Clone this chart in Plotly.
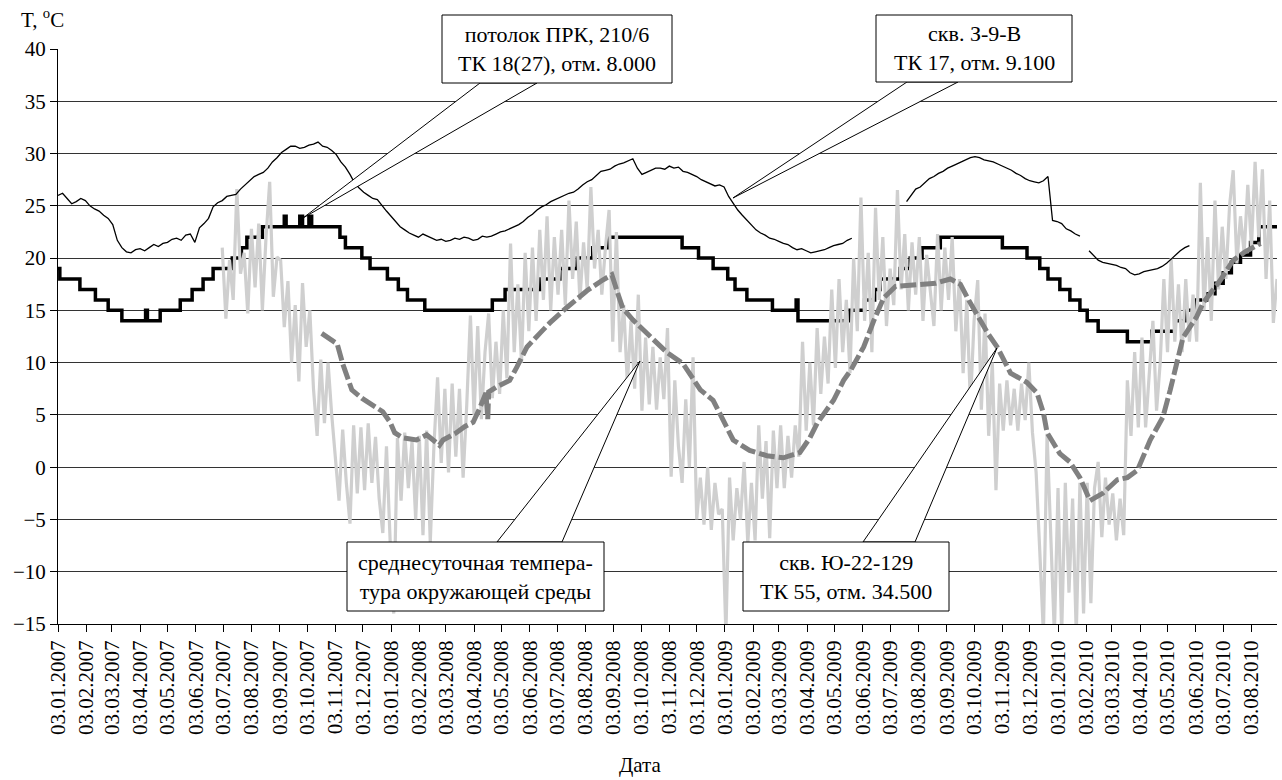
import pandas as pd
import plotly.graph_objects as go

# ---------------- data ----------------
X_START = "2007-01-03"
X_END = "2010-08-31"

# скв. З-9-В, ТК 17 (thin black), every 5 days from 03.01.2007
z9_start = "2007-01-03"
z9_vals = [
    26.0, 26.2, 25.7, 25.2, 25.4, 25.7, 25.5, 25.0, 24.7, 24.5, 24.1, 23.8, 23.2, 21.7, 21.0, 20.6, 20.5, 20.8, 20.9, 20.7,
    21.0, 21.3, 21.1, 21.4, 21.5, 21.8, 21.9, 21.7, 22.2, 22.3, 21.5, 22.9, 23.3, 23.8, 24.9, 25.3, 25.5, 25.9, 26.0, 26.1,
    26.6, 27.0, 27.4, 27.8, 28.0, 28.2, 28.6, 29.2, 29.6, 30.1, 30.4, 30.7, 30.7, 30.5, 30.6, 30.8, 30.9, 31.1, 30.7, 30.6,
    30.3, 29.9, 29.2, 28.7, 28.0, 27.2, 26.7, 26.3, 26.0, 25.7, 25.6, 25.0, 24.5, 24.0, 23.5, 23.0, 22.7, 22.4, 22.2, 22.0,
    22.3, 22.1, 21.9, 21.7, 21.8, 21.6, 21.7, 21.9, 21.8, 22.0, 21.9, 21.7, 21.8, 22.1, 22.0, 22.1, 22.3, 22.5, 22.6, 22.8,
    23.0, 23.2, 23.5, 23.9, 24.2, 24.6, 24.9, 25.1, 25.4, 25.6, 25.8, 26.0, 26.2, 26.3, 26.6, 27.0, 27.3, 27.5, 27.9, 28.3,
    28.4, 28.5, 28.8, 29.0, 29.1, 29.3, 29.5, 28.6, 28.0, 28.2, 28.4, 28.6, 28.6, 28.5, 28.8, 28.6, 28.7, 28.3, 28.2, 28.0,
    27.8, 27.5, 27.3, 27.1, 26.9, 27.0, 26.8, 25.9, 25.2, 24.6, 24.1, 23.6, 23.2, 22.7, 22.4, 22.2, 21.9, 21.8, 21.6, 21.4,
    21.3, 21.0, 20.8, 20.9, 20.7, 20.5, 20.6, 20.7, 20.8, 21.0, 21.2, 21.3, 21.4, 21.7, 21.9, None, None, None, None, None,
    None, None, None, None, None, None, 25.4, 26.0, 26.6, 26.8, 27.2, 27.6, 27.8, 28.1, 28.3, 28.6, 28.8, 29.0, 29.2, 29.4,
    29.6, 29.7, 29.6, 29.4, 29.3, 29.2, 29.0, 28.8, 28.6, 28.4, 28.1, 27.9, 27.6, 27.4, 27.3, 27.2, 27.4, 27.8, 23.6, 23.5,
    23.3, 22.8, 22.6, 22.3, 22.1, None, 20.7, 20.2, 19.8, 19.6, 19.5, 19.4, 19.3, 19.1, 19.0, 18.6, 18.4, 18.5, 18.7, 18.8,
    18.9, 19.0, 19.2, 19.5, 19.9, 20.3, 20.7, 21.0, 21.2,
]

# потолок ПРК 210/6, ТК 18(27) (thick black step line): change dates and levels
step_dates = ["2007-01-03", "2007-01-05", "2007-01-27", "2007-02-13", "2007-02-27", "2007-03-14", "2007-04-09", "2007-04-11", "2007-04-25", "2007-05-17",
              "2007-05-30", "2007-06-11", "2007-06-22", "2007-07-13", "2007-07-23", "2007-07-29", "2007-08-15", "2007-09-08", "2007-09-10", "2007-09-25",
              "2007-09-28", "2007-10-05", "2007-10-08", "2007-11-08", "2007-11-14", "2007-12-02", "2007-12-11", "2007-12-30", "2008-01-11", "2008-01-21",
              "2008-02-09", "2008-04-23", "2008-05-07", "2008-06-14", "2008-07-06", "2008-07-25", "2008-08-11", "2008-08-27", "2008-11-17", "2008-12-05",
              "2008-12-21", "2009-01-06", "2009-01-14", "2009-01-27", "2009-02-24", "2009-03-22", "2009-03-24", "2009-05-20", "2009-06-05", "2009-06-16",
              "2009-06-22", "2009-07-14", "2009-07-25", "2009-08-07", "2009-08-27", "2009-11-03", "2009-11-30", "2009-12-14", "2009-12-23", "2010-01-05",
              "2010-01-16", "2010-01-27", "2010-02-04", "2010-02-16", "2010-03-20", "2010-04-16", "2010-05-11", "2010-05-22", "2010-06-04", "2010-06-15",
              "2010-06-24", "2010-07-03", "2010-07-12", "2010-07-22", "2010-08-02", "2010-08-11", "2010-08-31"]
step_vals = [19, 18, 17, 16, 15, 14, 15, 14, 15, 16,
             17, 18, 19, 20, 21, 22, 23, 24, 23, 24,
             23, 24, 23, 22, 21, 20, 19, 18, 17, 16,
             15, 16, 17, 18, 19, 20, 21, 22, 21, 20,
             19, 18, 17, 16, 15, 16, 14, 15, 16, 17,
             18, 19, 20, 21, 22, 21, 20, 19, 18, 17,
             16, 15, 14, 13, 12, 13, 14, 15, 16, 16.6,
             17.6, 18.6, 19.6, 20.3, 21.5, 23, 23]

# скв. Ю-22-129, ТК 55 (thick grey dashed)
yu_dates = ["2007-10-19", "2007-10-28", "2007-11-05", "2007-11-11", "2007-11-17", "2007-11-21", "2007-12-02", "2007-12-11", "2007-12-20", "2007-12-25",
            "2008-01-02", "2008-01-07", "2008-01-16", "2008-01-31", "2008-02-11", "2008-02-18", "2008-02-25", "2008-02-29", "2008-03-13", "2008-03-24",
            "2008-04-02", "2008-04-09", "2008-04-16", "2008-04-18", "2008-04-19", "2008-04-28", "2008-05-12", "2008-05-20", "2008-05-31", "2008-06-14",
            "2008-06-25", "2008-07-14", "2008-08-05", "2008-08-22", "2008-09-01", "2008-09-08", "2008-09-13", "2008-09-24", "2008-10-09", "2008-10-31",
            "2008-11-18", "2008-12-07", "2008-12-21", "2009-01-03", "2009-01-12", "2009-01-30", "2009-02-18", "2009-03-08", "2009-03-26", "2009-04-06",
            "2009-04-14", "2009-05-02", "2009-05-13", "2009-05-21", "2009-06-04", "2009-06-15", "2009-06-26", "2009-07-09", "2009-08-02", "2009-08-22",
            "2009-09-07", "2009-09-18", "2009-09-27", "2009-10-07", "2009-10-18", "2009-10-29", "2009-11-12", "2009-11-30", "2009-12-11", "2009-12-18",
            "2009-12-22", "2010-01-05", "2010-01-16", "2010-01-27", "2010-02-07", "2010-02-21", "2010-03-09", "2010-03-20", "2010-03-31", "2010-04-14",
            "2010-04-28", "2010-05-06", "2010-05-14", "2010-05-20", "2010-06-04", "2010-06-11", "2010-06-30", "2010-07-14", "2010-07-27", "2010-08-13"]
yu_vals = [12.8, 12.2, 11.8, 9.9, 8.3, 7.4, 6.6, 6.1, 5.7, 5.3,
           4.3, 3.3, 2.8, 2.6, 3.1, 2.6, 2.1, 2.6, 3.2, 3.9,
           4.3, 5.6, 7.1, 4.6, 7.2, 7.7, 8.3, 9.6, 11.5, 12.8,
           13.8, 15.3, 16.9, 17.9, 18.4, 16.5, 15.2, 14.1, 12.8, 11.0,
           9.9, 7.4, 6.4, 4.2, 2.6, 1.6, 1.1, 0.9, 1.4, 2.8,
           4.2, 6.4, 8.3, 9.3, 11.5, 14.0, 16.2, 17.3, 17.4, 17.6,
           18.0, 17.5, 16.0, 14.5, 12.8, 11.4, 9.0, 8.1, 7.1, 5.2,
           3.3, 1.3, 0.5, -1.0, -3.2, -2.5, -1.2, -1.0, -0.3, 2.6,
           4.8, 7.4, 10.5, 12.4, 14.4, 15.7, 17.9, 19.8, 20.6, 21.4]

# среднесуточная температура окружающей среды (light grey), every 4 days from 02.07.2007
amb_start = "2007-07-02"
amb_vals = [
    21.0, 14.2, 19.8, 16.0, 26.6, 18.5, 20.5, 14.7,      # Jul 2007
    22.8, 17.2, 23.3, 15.0, 22.0, 27.3, 16.3, 20.1,      # Aug
    19.8, 13.4, 17.8, 10.0, 15.5, 8.2, 17.6, 11.5,       # Sep
    15.0, 7.5, 3.0, 10.3, 4.2, 10.0, 5.0,                # Oct
    0.5, -3.2, 3.6, -1.5, -5.4, 4.0, -2.5, 3.8,          # Nov
    -2.2, 4.2, -1.5, 2.9, -3.0, -6.3, 2.0, -7.0,         # Dec
    -14.0, 2.8, -3.2, 3.3, -2.0, 2.5, -5.0,              # Jan 2008
    3.0, -6.5, 3.5, -7.2, 2.0, 8.6, 0.4, 7.5,            # Feb
    -0.5, 8.0, 1.0, 7.5, -1.0, 6.0, 14.5,                # Mar
    5.0, 13.5, 4.6, 11.0, 14.7, 6.6, 12.0, 7.0,          # Apr
    15.0, 8.5, 21.4, 11.0, 17.5, 10.0, 20.5, 13.0,       # May
    21.0, 14.0, 22.7, 16.0, 24.0, 15.0, 22.0,            # Jun
    16.5, 22.7, 15.5, 25.5, 18.0, 23.5, 16.0, 21.5,      # Jul
    17.0, 26.8, 19.0, 22.7, 16.5, 21.0, 24.6, 12.0,      # Aug
    22.5, 11.0, 15.5, 8.0, 14.0, 7.5, 16.5,              # Sep
    5.4, 12.4, 6.0, 11.5, 5.5, 10.5, 6.5, 13.3,          # Oct
    -0.9, 8.3, 2.0, -1.5, 6.5, 0.0, 10.5, -5.0,          # Nov
    -1.0, -5.5, 0.0, -6.0, -1.5, -4.5, -4.0,             # Dec
    -16.0, -1.0, -7.0, -2.0, -5.0, 0.5, -7.3, -1.5,      # Jan 2009
    -7.0, 4.0, -3.0, 2.5, -6.8, 3.5, -2.0,               # Feb
    4.0, -2.0, 3.0, -1.0, 4.0, 1.0, 12.0, 3.5,           # Mar
    10.0, 4.0, 13.3, 7.0, 12.5, 8.0, 17.0,               # Apr
    9.5, 18.0, 11.0, 16.0, 9.0, 20.0, 13.0, 25.8,        # May
    14.0, 20.5, 11.0, 24.8, 16.0, 22.0, 13.5, 19.0,      # Jun
    15.5, 26.5, 17.0, 22.3, 15.0, 21.5, 16.5,            # Jul
    22.0, 14.0, 20.3, 16.5, 13.5, 22.3, 15.0, 21.0,      # Aug
    16.0, 22.0, 13.0, 18.0, 9.0, 16.0, 6.0, 14.0,        # Sep
    17.9, 5.5, 14.7, 3.0, 10.0, -2.2, 8.0,               # Oct
    3.5, 8.3, 4.0, 7.5, 3.5, 8.0, 4.5, 10.0,             # Nov
    3.3, -0.5, -8.0, -16.0, 3.2, -6.0, -16.0, -2.0,      # Dec
    -16.0, -1.5, -12.0, -3.0, -16.0, -1.5, -14.0,        # Jan 2010
    -1.5, -13.0, -2.0, 0.5, -6.7, -1.0, -5.5,            # Feb
    -2.5, -7.0, -3.0, -6.5, 8.3, 3.0, 11.0, 3.8,         # Mar
    12.4, 3.8, 9.0, 14.0, 5.4, 10.0, 18.0, 11.0,         # Apr
    20.0, 12.0, 17.5, 11.0, 18.0, 12.0, 16.5,            # May
    12.0, 27.2, 15.0, 22.0, 14.0, 25.5, 17.0, 23.0,      # Jun
    18.0, 25.0, 28.4, 19.5, 24.0, 20.5, 27.0, 21.0,      # Jul
    29.2, 22.0, 28.5, 18.0, 25.5, 13.8, 18.0,            # Aug
]

tick_dates = pd.date_range("2007-01-03", "2010-08-03", freq=pd.DateOffset(months=1))
tick_text = [d.strftime("%d.%m.%Y") for d in tick_dates]

callout_texts = ["потолок ПРК, 210/6<br>ТК 18(27), отм. 8.000",
                 "скв. З-9-В<br>ТК 17, отм. 9.100",
                 "среднесуточная темпера-<br>тура окружающей среды",
                 "скв. Ю-22-129<br>ТК 55, отм. 34.500"]

SERIF = "Liberation Serif"

# ---------------- figure ----------------
z9_dates = pd.date_range(z9_start, periods=len(z9_vals), freq="5D")
amb_dates = pd.date_range(amb_start, periods=len(amb_vals), freq="4D")

fig = go.Figure()
fig.add_trace(go.Scatter(x=step_dates, y=step_vals, mode="lines", line_shape="hv",
                         line=dict(color="black", width=3.5), hoverinfo="skip"))
fig.add_trace(go.Scatter(x=amb_dates, y=amb_vals, mode="lines",
                         line=dict(color="#cfcfcf", width=3.2), hoverinfo="skip"))
fig.add_trace(go.Scatter(x=yu_dates, y=yu_vals, mode="lines",
                         line=dict(color="#808080", width=5, dash="16px,4px"), hoverinfo="skip"))
fig.add_trace(go.Scatter(x=z9_dates, y=z9_vals, mode="lines", connectgaps=False,
                         line=dict(color="black", width=1.3), hoverinfo="skip"))

# plot area in pixels: x 58..1277, y 49..624
L, R, T, B = 58, 1277, 49, 624


def pxx(x):
    return (x - L) / (R - L)


def pxy(y):
    return (B - y) / (B - T)


# callout geometry (pixels): box, two base points of the wedge, wedge tip
callouts = [
    dict(box=(442, 15, 672, 83), b1=(480, 83), b2=(537, 83), tip=(303, 218)),
    dict(box=(876, 15, 1072, 82), b1=(907, 82), b2=(958, 82), tip=(733, 198)),
    dict(box=(347, 542, 604, 611), b1=(497, 542), b2=(562, 542), tip=(640, 361)),
    dict(box=(743, 542, 949, 611), b1=(863, 542), b2=(915, 542), tip=(997, 348)),
]

shapes = []
annotations = []
for c, txt in zip(callouts, callout_texts):
    (x0, y0, x1, y1) = c["box"]
    path = "M {:.5f} {:.5f} L {:.5f} {:.5f} L {:.5f} {:.5f} Z".format(
        pxx(c["b1"][0]), pxy(c["b1"][1]), pxx(c["tip"][0]), pxy(c["tip"][1]),
        pxx(c["b2"][0]), pxy(c["b2"][1]))
    shapes.append(dict(type="path", path=path, xref="paper", yref="paper",
                       fillcolor="white", line=dict(color="black", width=1), layer="above"))
    shapes.append(dict(type="rect", xref="paper", yref="paper",
                       x0=pxx(x0), x1=pxx(x1), y0=pxy(y1), y1=pxy(y0),
                       fillcolor="white", line=dict(color="black", width=1), layer="above"))
    annotations.append(dict(text=txt, xref="paper", yref="paper",
                            x=pxx((x0 + x1) / 2), y=pxy((y0 + y1) / 2),
                            xanchor="center", yanchor="middle", showarrow=False,
                            align="center", font=dict(family=SERIF, size=22, color="black")))

annotations.append(dict(text="T, <sup>o</sup>C", xref="paper", yref="paper",
                        x=pxx(19), y=pxy(18), xanchor="left", yanchor="middle",
                        showarrow=False, font=dict(family=SERIF, size=21)))
annotations.append(dict(text="Дата", xref="paper", yref="paper",
                        x=pxx(640), y=pxy(765), xanchor="center", yanchor="middle",
                        showarrow=False, font=dict(family=SERIF, size=21)))

fig.update_layout(
    width=1282, height=780,
    margin=dict(l=L, r=1282 - R, t=T, b=780 - B),
    paper_bgcolor="white", plot_bgcolor="white",
    showlegend=False,
    font=dict(family=SERIF, size=21, color="black"),
    shapes=shapes, annotations=annotations,
    xaxis=dict(type="date", range=[X_START, X_END], tickvals=tick_dates, ticktext=tick_text,
               tickangle=-90, ticks="outside", ticklen=7, tickcolor="black",
               showline=True, linecolor="black", linewidth=1,
               showgrid=False, zeroline=False, tickfont=dict(family=SERIF, size=21)),
    yaxis=dict(range=[-15, 40], tick0=0, dtick=5, ticks="outside", ticklen=7, tickcolor="black",
               showline=True, linecolor="black", linewidth=1,
               showgrid=True, gridcolor="#333333", gridwidth=1, zeroline=False,
               tickfont=dict(family=SERIF, size=21)),
)

fig.write_html("out.html")
